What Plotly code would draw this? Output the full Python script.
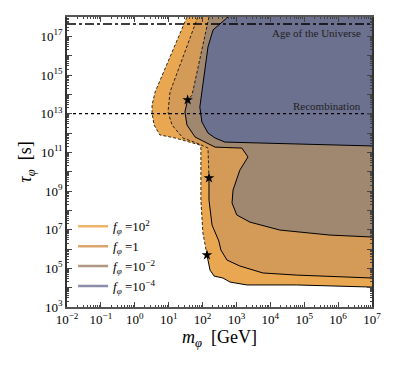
import numpy as np
import plotly.graph_objects as go

# boundaries in (log10 m [GeV], log10 tau [s]), traced from the top edge down to the right edge
f_labels = ["<i>f</i><sub><i>φ</i></sub> =10<sup>2</sup>", "<i>f</i><sub><i>φ</i></sub> =1",
            "<i>f</i><sub><i>φ</i></sub> =10<sup>−2</sup>", "<i>f</i><sub><i>φ</i></sub> =10<sup>−4</sup>"]

logm_f1e2 = [1.54, 0.60, 0.51, 0.51, 0.57, 0.74, 1.19, 1.92, 1.95, 1.95, 2.01, 2.13, 2.22, 2.34, 2.60, 2.81, 3.31, 4.78, 7.0]
logt_f1e2 = [18.0, 14.12, 13.45, 13.03, 12.41, 11.9, 11.74, 11.38, 11.27, 8.53, 6.83, 5.69, 4.91, 4.60, 4.50, 4.29, 4.14, 4.14, 4.03]

logm_f1 = [1.86, 1.04, 0.98, 1.10, 1.42, 1.83, 2.16, 2.19, 2.19, 2.28, 2.40, 2.48, 2.54, 2.72, 3.10, 3.78, 4.78, 7.0]
logt_f1 = [18.0, 14.12, 13.09, 12.41, 11.74, 11.48, 11.22, 9.67, 8.53, 7.24, 6.72, 6.41, 5.95, 5.43, 5.12, 4.76, 4.65, 4.50]

logm_f1em2 = [2.19, 1.69, 1.56, 1.48, 1.54, 1.78, 2.13, 2.37, 3.16, 3.34, 3.10, 2.90, 2.87, 3.01, 3.40, 4.28, 5.76, 7.0]
logt_f1em2 = [18.0, 13.96, 13.71, 13.09, 12.41, 11.79, 11.48, 11.27, 11.22, 10.76, 10.08, 9.05, 8.38, 7.76, 7.39, 6.98, 6.72, 6.62]

logm_f1em4 = [2.75, 2.31, 2.16, 2.04, 1.92, 1.98, 2.16, 2.37, 2.66, 7.0]
logt_f1em4 = [18.0, 17.33, 16.45, 15.0, 13.34, 12.57, 12.0, 11.74, 11.53, 11.33]

# index of the star on each boundary (dashed above, solid below); None = all solid
star_idx = [11, 7, 2, None]

fill_colors = ["#E9A752", "#D39A58", "#A08770", "#6D7190"]
legend_colors = ["#EFB36A", "#DCA36B", "#B09884", "#8A8EAA"]

t_age = 4.35e17
t_rec = 1.0e13

boundaries = [(logm_f1e2, logt_f1e2), (logm_f1, logt_f1), (logm_f1em2, logt_f1em2), (logm_f1em4, logt_f1em4)]

fig = go.Figure()

for (lm, lt), col in zip(boundaries, fill_colors):
    xs = list(10 ** np.array(lm)) + [1e7, 10 ** lm[0]]
    ys = list(10 ** np.array(lt)) + [1e18, 10 ** lt[0]]
    fig.add_trace(go.Scatter(x=xs, y=ys, fill="toself", fillcolor=col, mode="lines",
                             line=dict(width=0), hoverinfo="skip", showlegend=False))

for (lm, lt), si in zip(boundaries, star_idx):
    x = 10 ** np.array(lm)
    y = 10 ** np.array(lt)
    if si is None:
        fig.add_trace(go.Scatter(x=x, y=y, mode="lines", line=dict(color="black", width=1),
                                 showlegend=False))
        continue
    fig.add_trace(go.Scatter(x=x[:si + 1], y=y[:si + 1], mode="lines",
                             line=dict(color="black", width=0.8, dash="3px,2px"), showlegend=False))
    fig.add_trace(go.Scatter(x=x[si:], y=y[si:], mode="lines",
                             line=dict(color="black", width=1), showlegend=False))
    fig.add_trace(go.Scatter(x=[x[si]], y=[y[si]], mode="markers",
                             marker=dict(symbol="star", size=8, color="black"), showlegend=False))

fig.add_trace(go.Scatter(x=[1e-2, 1e7], y=[t_age, t_age], mode="lines",
                         line=dict(color="black", width=1.3, dash="dashdot"), showlegend=False))
fig.add_trace(go.Scatter(x=[1e-2, 1e7], y=[t_rec, t_rec], mode="lines",
                         line=dict(color="black", width=1.1, dash="dot"), showlegend=False))

for lab, col in zip(f_labels, legend_colors):
    fig.add_trace(go.Scatter(x=[None], y=[None], mode="lines", line=dict(color=col, width=2.5),
                             name=lab))

font = "Liberation Serif, DejaVu Serif, serif"

fig.add_annotation(x=0.97, y=(np.log10(t_age) - 3) / 15, xref="paper", yref="paper",
                   text="Age of the Universe", showarrow=False, xanchor="right", yanchor="top",
                   yshift=-1, font=dict(size=11, color="#222"))
fig.add_annotation(x=0.97, y=(np.log10(t_rec) - 3) / 15, xref="paper", yref="paper",
                   text="Recombination", showarrow=False, xanchor="right", yanchor="bottom",
                   yshift=0, font=dict(size=11, color="#222"))

xt = list(range(-2, 8))
yt = list(range(3, 19))

fig.update_xaxes(type="log", range=[-2, 7], tickvals=[10.0 ** e for e in xt],
                 ticktext=["10<sup>%s</sup>" % str(e).replace("-", "−") for e in xt],
                 ticks="inside", ticklen=5, tickcolor="#444", mirror="allticks", showline=True,
                 linecolor="#555", linewidth=1.5, showgrid=False, zeroline=False, automargin=False,
                 minor=dict(ticks="inside", ticklen=2.5, tickcolor="#444", dtick="D1", showgrid=False),
                 title=dict(text="<i>m</i><sub><i>φ</i></sub>  [GeV]", font=dict(size=18), standoff=2),
                 tickfont=dict(size=13))
fig.update_yaxes(type="log", range=[3, 18], tickvals=[10.0 ** e for e in yt],
                 ticktext=["10<sup>%d</sup>" % e if e % 2 == 1 else "" for e in yt],
                 ticks="inside", ticklen=5, tickcolor="#444", mirror="allticks", showline=True,
                 linecolor="#333", linewidth=1.5, showgrid=False, zeroline=False, automargin=False,
                 minor=dict(ticks="inside", ticklen=2.5, tickcolor="#444", dtick="D1", showgrid=False),
                 title=dict(text="<i>τ</i><sub><i>φ</i></sub>  [s]", font=dict(size=18), standoff=4),
                 tickfont=dict(size=13))

# page body keeps an 8px margin, so the figure is drawn 8px smaller and offset
fig.update_layout(
    width=390, height=357,
    margin=dict(l=59, r=26, t=9, b=58),
    paper_bgcolor="white", plot_bgcolor="white",
    font=dict(family=font, color="black"),
    legend=dict(x=0.02, y=0.33, xanchor="left", yanchor="top", bgcolor="rgba(0,0,0,0)",
                font=dict(size=13), tracegroupgap=0, itemwidth=30),
)

fig.write_html("out.html")
